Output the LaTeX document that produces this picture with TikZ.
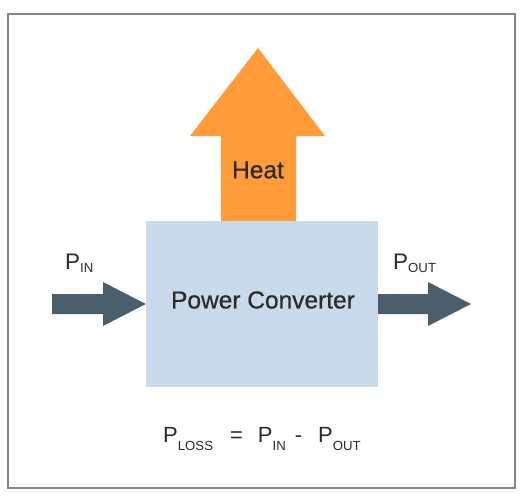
\documentclass[tikz,border=0pt]{standalone}
\usepackage{fontspec}
\setmainfont{Liberation Sans}
\newfontfamily\medfont[FakeBold=0.6]{Liberation Sans}
\usepackage{tikz}
\usetikzlibrary{calc}

\definecolor{heatorange}{HTML}{FF9B38}
\definecolor{boxblue}{HTML}{C9DAEA}
\definecolor{flowslate}{HTML}{4A5E6C}
\definecolor{textdark}{HTML}{2B2B2B}
\definecolor{framegray}{HTML}{858585}

% P with a small subscript, lowered by #2
\newcommand{\psub}[2]{P\raisebox{-#2}{\fontsize{13.2}{13.2}\selectfont #1}}

\tikzset{
  flow/.style={fill=flowslate},
  heat/.style={fill=heatorange},
  big/.style={font=\medfont\fontsize{24.5}{24.5}\selectfont, text=textdark, inner sep=0pt},
  lbl/.style={font=\fontsize{22.5}{22.5}\selectfont, text=textdark, inner sep=0pt, anchor=base west},
}

\begin{document}
\begin{tikzpicture}[x=1pt,y=-1pt]
\useasboundingbox (0,0) rectangle (526,498);
\draw[framegray, line width=1.3pt] (8,14) rectangle (515,488);

% heat arrow
\coordinate (heattip) at (258,48);
\fill[heat] (heattip) -- (325,136) -- (296,136) -- (296,222) -- (221,222) -- (221,136) -- (190,136) -- cycle;
\node[big] (heat) at (258,170) {Heat};

% converter box
\node[fill=boxblue, minimum width=232pt, minimum height=166pt, inner sep=0pt] (box) at (262,304) {};
\node[big] (conv) at (263,300) {Power Converter};

% input and output arrows
\coordinate (in) at (52,304);
\coordinate (out) at (471,304);
\fill[flow] ($(in)+(0,-10)$) -- ($(in)+(51,-10)$) -- ($(in)+(51,-22)$) -- (box.west)
  -- ($(in)+(51,22)$) -- ($(in)+(51,10)$) -- ($(in)+(0,10)$) -- cycle;
\fill[flow] ($(box.east)+(0,-10)$) -- ($(out)+(-43,-10)$) -- ($(out)+(-43,-22)$) -- (out)
  -- ($(out)+(-43,22)$) -- ($(out)+(-43,10)$) -- ($(box.east)+(0,10)$) -- cycle;

% labels
\node[lbl] (pin) at (65,269) {\psub{IN}{3pt}};
\node[lbl] (pout) at (393,269) {\psub{OUT}{3pt}};
\node[lbl, font=\fontsize{22}{22}\selectfont] (loss) at (163,442)
  {\psub{LOSS}{8pt}\hspace{17pt}=\hspace{15pt}\psub{IN}{8pt}\hspace{9pt}-\hspace{16pt}\psub{OUT}{8pt}};
\end{tikzpicture}
\end{document}
